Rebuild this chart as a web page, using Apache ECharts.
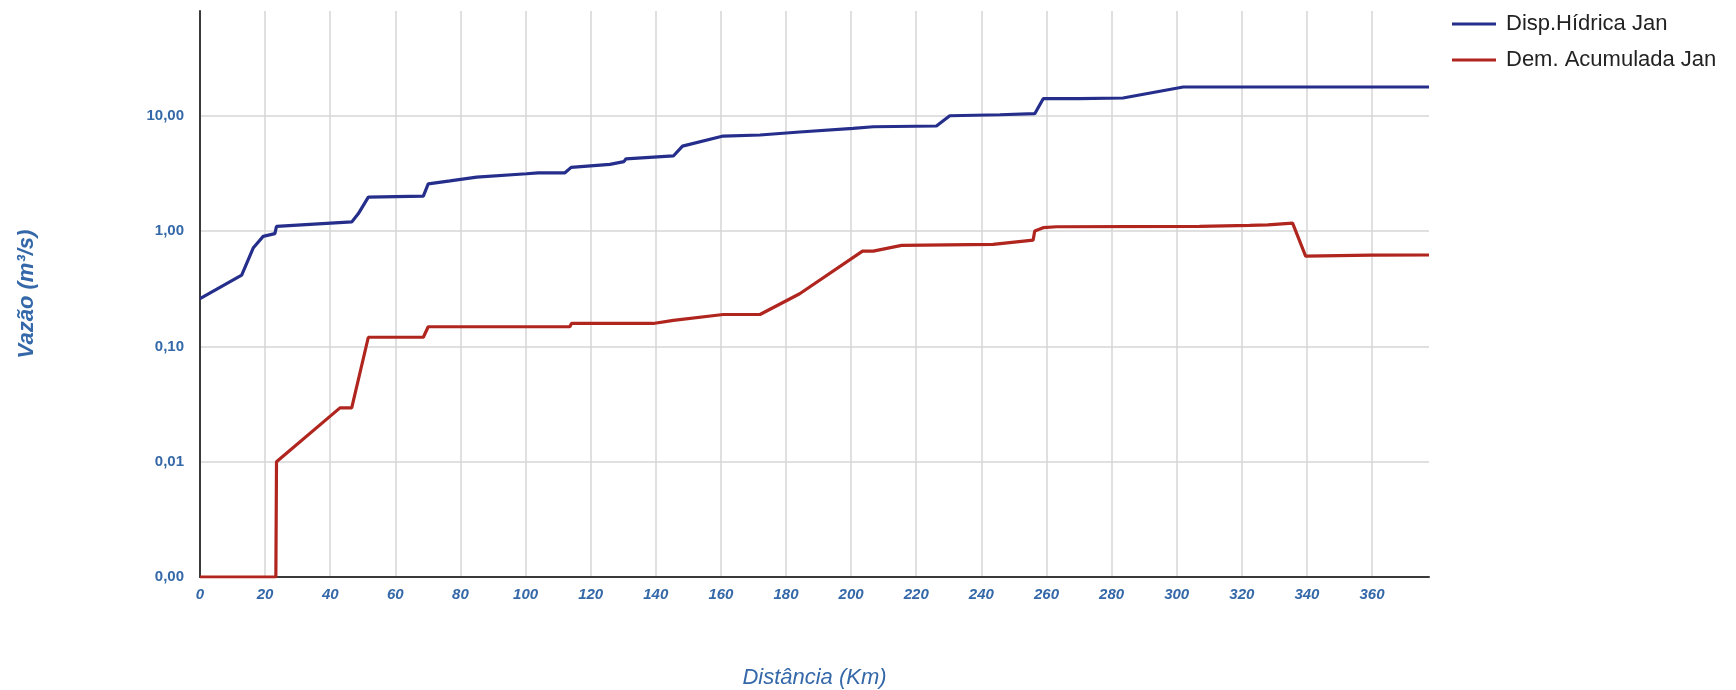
<!DOCTYPE html>
<html>
<head>
<meta charset="utf-8">
<script src="https://cdn.jsdelivr.net/npm/echarts@6/dist/echarts.min.js"></script>
<style>
  html, body { margin: 0; padding: 0; background: #fff; }
  #chart { width: 1736px; height: 690px; }
</style>
</head>
<body>
<div id="chart"></div>
<script>
// Disponibilidade hídrica (azul)
const distDisp = [0, 12.8, 16.4, 19.4, 23.0, 23.5, 46.6, 48.6, 51.7, 68.6, 70.1, 76.8, 85, 100.3, 103.9, 112.1, 114.0, 125.9, 130.2, 130.8, 145.4, 148.2, 160.7, 172, 184.2, 200.6, 206.8, 226.2, 230.3, 245.7, 256.4, 259.0, 270, 283.5, 302, 377.5];
const vazaoDisp = [0.259, 0.415, 0.717, 0.90, 0.95, 1.10, 1.20, 1.41, 1.97, 2.01, 2.57, 2.72, 2.94, 3.14, 3.20, 3.20, 3.57, 3.79, 4.0, 4.22, 4.48, 5.45, 6.67, 6.81, 7.23, 7.78, 8.03, 8.15, 10.0, 10.2, 10.42, 14.06, 14.1, 14.26, 17.75, 17.75];

// Demanda acumulada (vermelho)
const distDem = [0, 23.3, 23.5, 43, 46.6, 51.7, 68.6, 70.1, 113.6, 114.1, 139.2, 145.4, 160.7, 172, 184.2, 203.5, 206.8, 215.5, 243.6, 255.9, 256.4, 259, 263.1, 307, 322.4, 328, 335.6, 339.6, 359.8, 377.5];
const vazaoDem = [0.001, 0.001, 0.01, 0.0293, 0.0293, 0.120, 0.120, 0.148, 0.148, 0.158, 0.158, 0.168, 0.189, 0.189, 0.286, 0.67, 0.67, 0.751, 0.766, 0.835, 1.0, 1.07, 1.09, 1.10, 1.12, 1.13, 1.17, 0.607, 0.619, 0.62];

const seriesNames = ['Disp.Hídrica Jan', 'Dem. Acumulada Jan'];
const xMax = 377.5;
const yMin = 0.001;
const yMax = 81;

const labelBlue = '#3468a8';
const font = "'Liberation Sans', Arial, sans-serif";

function zip(xs, ys){ return xs.map((x, i) => [x, ys[i]]); }

const chart = echarts.init(document.getElementById('chart'));
chart.setOption({
  animation: false,
  backgroundColor: '#fff',
  grid: { left: 200, top: 11, right: 307, bottom: 113, containLabel: false, outerBoundsMode: 'none' },
  legend: {
    data: seriesNames,
    orient: 'vertical',
    left: 1447,
    top: 8,
    icon: 'rect',
    itemWidth: 44,
    itemHeight: 3,
    itemGap: 14,
    textStyle: { fontFamily: font, fontSize: 22, color: '#222', padding: [0, 0, 0, 5] }
  },
  xAxis: {
    type: 'value',
    min: 0,
    max: xMax,
    interval: 20,
    name: 'Distância (Km)',
    nameLocation: 'middle',
    nameGap: 90,
    nameTextStyle: { fontFamily: font, fontSize: 22, fontStyle: 'italic', color: labelBlue },
    axisLine: { show: true, onZero: false, lineStyle: { color: '#3a3a3a', width: 2 } },
    axisTick: { show: false },
    axisLabel: { margin: 10, showMaxLabel: false, fontFamily: font, fontSize: 15, fontWeight: 'bold', fontStyle: 'italic', color: labelBlue },
    splitLine: { show: true, showMaxLine: false, lineStyle: { color: '#d6d6d6', width: 1.5 } }
  },
  yAxis: {
    type: 'log',
    logBase: 10,
    min: yMin,
    max: yMax,
    name: 'Vazão (m³/s)',
    nameLocation: 'middle',
    nameGap: 162,
    nameTextStyle: { fontFamily: font, fontSize: 22, fontStyle: 'italic', fontWeight: 'bold', color: labelBlue },
    axisLine: { show: true, onZero: false, lineStyle: { color: '#3a3a3a', width: 2 } },
    axisTick: { show: false },
    axisLabel: {
      margin: 16, showMaxLabel: false, fontFamily: font, fontSize: 15, fontWeight: 'bold', color: labelBlue,
      formatter: function(v){ return v.toFixed(2).replace('.', ','); }
    },
    splitLine: { show: true, showMaxLine: false, lineStyle: { color: '#d6d6d6', width: 1.5 } }
  },
  series: [
    { name: seriesNames[0], type: 'line', data: zip(distDisp, vazaoDisp), showSymbol: false, color: '#262e8c', lineStyle: { width: 3.2, color: '#262e8c' } },
    { name: seriesNames[1], type: 'line', data: zip(distDem, vazaoDem), showSymbol: false, color: '#b0261f', lineStyle: { width: 3.2, color: '#b0261f' } }
  ]
});
</script>
</body>
</html>
